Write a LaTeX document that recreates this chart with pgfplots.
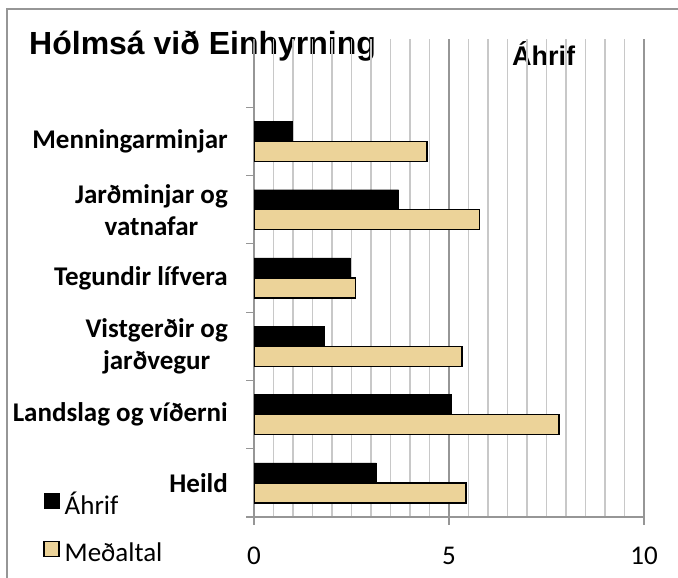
\documentclass[border=0pt]{standalone}
\usepackage{fontspec}
\setmainfont{Carlito}
\newfontfamily\arialfont{Liberation Sans}
\usepackage{pgfplots}
\pgfplotsset{compat=1.18}
\definecolor{tanbar}{RGB}{236,211,153}
\definecolor{gridgray}{RGB}{200,200,200}
\definecolor{axgray}{RGB}{150,150,150}
\begin{document}
\begin{tikzpicture}[x=1bp,y=1bp]
\path[use as bounding box] (0,0) rectangle (678,578);
\draw[axgray, line width=2bp] (7,-2) -- (7,569) -- (680,569);
\node[anchor=base west, inner sep=0pt, font=\arialfont\bfseries\fontsize{32bp}{37bp}\selectfont] at (29,523) {Hólmsá við Einhyrning};
\node[anchor=base west, inner sep=0pt, font=\arialfont\bfseries\fontsize{27bp}{32bp}\selectfont] at (512,512) {Áhrif};
\begin{axis}[
  at={(254bp,61bp)}, anchor=south west,
  scale only axis, width=390bp, height=478bp,
  xmin=0, xmax=10, ymin=-0.5, ymax=6.5,
  axis lines*=left,
  axis line style={axgray, line width=1.2bp},
  xtick={0,5,10},
  minor xtick={0.5,1,...,9.5},
  xmajorgrids, xminorgrids,
  major x grid style={axgray, line width=1.2bp},
  minor x grid style={gridgray, line width=1.2bp},
  ytick={0,1,2,3,4,5},
  yticklabels={Heild, Landslag og víðerni, {Vistgerðir og\\jarðvegur}, Tegundir lífvera, {Jarðminjar og\\vatnafar}, Menningarminjar},
  minor ytick={-0.5,0.5,...,5.5},
  major y tick style={draw=none},
  minor x tick style={draw=none},
  tick align=outside,
  major tick length=8bp, minor tick length=8bp,
  tick style={axgray, line width=1.2bp},
  yticklabel style={font=\bfseries\fontsize{27bp}{32bp}\selectfont, align=center, inner sep=0pt, xshift=-18bp},
  xticklabel style={font=\fontsize{27bp}{32bp}\selectfont, inner sep=0pt, yshift=-22bp},
  /pgf/number format/assume math mode=true,
  xbar, bar width=20bp,
  legend style={at={(-0.541,0.055)}, anchor=north west, draw=none, fill=none,
    font=\fontsize{27bp}{32bp}\selectfont, inner sep=0pt, row sep=24bp,
    nodes={inner sep=1bp}},
  legend cell align=left,
  legend image code/.code={\draw[#1] (0bp,-4bp) rectangle (15bp,11bp); \path (0bp,0bp) (19bp,0bp);},
]
\addplot[fill=black, draw=black, bar shift=10bp] coordinates {
 (3.14,0) (5.06,1) (1.79,2) (2.47,3) (3.71,4) (0.97,5)};
\addlegendentry{Áhrif}
\addplot[fill=tanbar, draw=black, line width=1.5bp, bar shift=-10bp] coordinates {
 (5.43,0) (7.82,1) (5.33,2) (2.60,3) (5.78,4) (4.43,5)};
\addlegendentry{Meðaltal}
\end{axis}
\end{tikzpicture}
\end{document}
